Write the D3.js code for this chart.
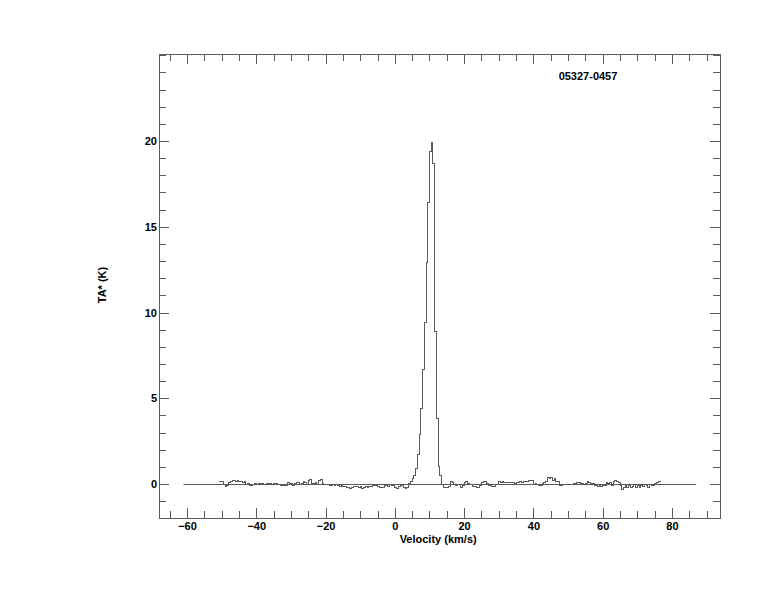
<!DOCTYPE html>
<html>
<head>
<meta charset="utf-8">
<script src="https://cdn.jsdelivr.net/npm/d3@7"></script>
<style>
  html, body { margin: 0; padding: 0; background: #fff; }
  svg text { font-family: "Liberation Sans", Arial, Helvetica, sans-serif; font-weight: bold; fill: #000; }
</style>
</head>
<body>
<svg id="chart" width="774" height="612"></svg>
<script>
// ---- data ----
const title = "05327-0457";
const xLabel = "Velocity (km/s)";
const yLabel = "TA* (K)";
const xMajorTicks = [-60, -40, -20, 0, 20, 40, 60, 80];
const yMajorTicks = [0, 5, 10, 15, 20];
const channelStart = -51;   // km/s, left edge of first channel
const channelWidth = 0.5;   // km/s
const baseline = [-61, 87]; // km/s extent of the zero line
const ta = [
  0.16, 0.16, 0.14, -0.04,  -0.12, -0.10, 0.08, 0.12,
  0.18, 0.18, 0.16, 0.18,   0.12, 0.12, 0.10, 0.12,
  0.0, 0.02, -0.06, -0.08,  -0.04, 0.02, 0.0, 0.02,
  0.04, 0.06, -0.02, 0.0,   0.06, 0.04, 0.04, -0.04,
  0.06, 0.04, 0.0, -0.04,   -0.08, -0.06, -0.08, -0.10,
  0.08, 0.06, 0.02, -0.06,  0.02, 0.10, 0.08, 0.0,
  0.04, 0.12, 0.08, 0.0,    0.22, 0.24, 0.06, 0.02,
  0.10, 0.0, 0.22, 0.24,    0.06, 0.0, -0.04, -0.02,
  -0.06, -0.10, -0.04, -0.08, -0.02, -0.06, -0.14, -0.10,
  -0.12, -0.16, -0.20, -0.18, -0.24, -0.18, -0.16, -0.14,
  -0.16, -0.20, -0.14, -0.24, -0.18, -0.16, -0.20, -0.12,
  -0.16, -0.10, -0.04, -0.06, -0.12, -0.18, -0.20, -0.20,
  -0.08, -0.06, -0.12, -0.04, -0.06, -0.10, -0.20, -0.24,
  -0.12, -0.06, -0.10, -0.18, -0.24, -0.20, 0.02, 0.15,
  0.30, 0.50, 0.90, 1.70,   2.90, 4.40, 6.70, 9.40,
  12.9, 16.4, 19.4, 19.9,   18.7, 8.90, 3.80, 1.00,
  0.50, -0.05, -0.20, -0.22, -0.20, -0.14, 0.12, 0.10,
  -0.04, -0.10, -0.04, 0.0, -0.20, -0.06, 0.10, 0.12,
  0.06, -0.04, -0.02, -0.16, -0.16, -0.20, -0.20, -0.10,
  0.08, 0.12, 0.14, 0.04,   -0.08, -0.08, -0.16, -0.14,
  -0.02, 0.0, 0.12, 0.10,   0.12, 0.10, 0.08, 0.08,
  0.08, 0.10, 0.08, 0.06,   0.08, 0.10, 0.12, 0.10,
  0.12, 0.12, 0.16, 0.20,   0.20, 0.18, 0.0, 0.02,
  -0.04, -0.08, -0.08, 0.04, 0.10, 0.12, 0.36, 0.34,
  0.36, 0.20, 0.34, 0.16,   0.14, -0.06, -0.08, -0.02,
  -0.04, 0.0, -0.02, 0.0,   -0.04, 0.02, 0.04, 0.08,
  0.10, 0.06, 0.04, 0.0,    0.04, 0.16, 0.10, 0.02,
  0.04, -0.10, -0.08, -0.12, -0.10, -0.12, -0.10, -0.08,
  0.08, 0.06, 0.10, -0.06,  0.16, 0.18, 0.14, 0.10,
  -0.10, -0.30, -0.20, -0.04, -0.20, -0.08, -0.18, -0.16,
  -0.04, -0.20, -0.10, -0.18, -0.06, -0.12, -0.02, -0.10,
  -0.20, -0.04, -0.06, -0.10, 0.04, 0.10, 0.12, 0.14
];

// ---- layout ----
const frame = { left: 159, right: 720, top: 54, bottom: 518 };
const lineColor = "#5a5a5a";
const majorLen = 10, minorLen = 7;

const svg = d3.select("#chart");

const x = d3.scaleLinear().domain([-68.08, 93.86]).range([frame.left, frame.right]);
const y = d3.scaleLinear().domain([-1.98, 25.07]).range([frame.bottom, frame.top]);

const xMinor = d3.range(-65, 95, 5).filter(v => x(v) > frame.left && x(v) < frame.right && !xMajorTicks.includes(v));
const yMinor = d3.range(-1, 26, 1).filter(v => !yMajorTicks.includes(v) && y(v) > frame.top && y(v) < frame.bottom);

function addAxis(gen, tr, labels) {
  const g = svg.append("g").attr("transform", tr).call(gen);
  g.select(".domain").remove();
  g.selectAll("line").attr("stroke", lineColor).attr("shape-rendering", "crispEdges");
  g.selectAll("text").attr("font-size", 11).style("font-family", "'Liberation Sans', Arial, sans-serif").style("font-weight", "bold").attr("fill", "#000");
  if (!labels) g.selectAll("text").remove();
  return g;
}
// bottom
addAxis(d3.axisBottom(x).tickValues(xMajorTicks).tickSize(-majorLen).tickFormat(d3.format("d")), `translate(0,${frame.bottom})`, true)
  .selectAll("text").attr("dy", "0.71em").attr("y", 4);
addAxis(d3.axisBottom(x).tickValues(xMinor).tickSize(-minorLen), `translate(0,${frame.bottom})`, false);
// top
addAxis(d3.axisTop(x).tickValues(xMajorTicks).tickSize(-majorLen), `translate(0,${frame.top})`, false);
addAxis(d3.axisTop(x).tickValues(xMinor).tickSize(-minorLen), `translate(0,${frame.top})`, false);
// left
addAxis(d3.axisLeft(y).tickValues(yMajorTicks).tickSize(-majorLen).tickFormat(d3.format("d")), `translate(${frame.left},0)`, true)
  .selectAll("text").attr("x", -2);
addAxis(d3.axisLeft(y).tickValues(yMinor).tickSize(-minorLen), `translate(${frame.left},0)`, false);
// right
addAxis(d3.axisRight(y).tickValues(yMajorTicks).tickSize(-majorLen), `translate(${frame.right},0)`, false);
addAxis(d3.axisRight(y).tickValues(yMinor).tickSize(-minorLen), `translate(${frame.right},0)`, false);

// frame
svg.append("rect")
  .attr("x", frame.left + 0.5).attr("y", frame.top + 0.5)
  .attr("width", frame.right - frame.left).attr("height", frame.bottom - frame.top)
  .attr("fill", "none").attr("stroke", lineColor).attr("shape-rendering", "crispEdges");

// zero baseline
svg.append("line")
  .attr("x1", x(baseline[0])).attr("x2", x(baseline[1]))
  .attr("y1", Math.round(y(0)) + 0.5).attr("y2", Math.round(y(0)) + 0.5)
  .attr("stroke", lineColor).attr("stroke-width", 1);

// spectrum (histogram style)
const pts = ta.map((t, i) => [channelStart + (i + 0.5) * channelWidth, t]);
const line = d3.line().x(d => x(d[0])).y(d => y(d[1])).curve(d3.curveStep);
svg.append("path")
  .attr("d", line(pts))
  .attr("fill", "none").attr("stroke", lineColor).attr("stroke-width", 1)
  .attr("shape-rendering", "crispEdges");

// titles
svg.append("text").attr("x", 588).attr("y", 80).attr("text-anchor", "middle").attr("font-size", 11).text(title);
svg.append("text").attr("x", x(12.5)).attr("y", 543).attr("text-anchor", "middle").attr("font-size", 11).text(xLabel);
svg.append("text").attr("transform", "translate(106,285) rotate(-90)").attr("text-anchor", "middle").attr("font-size", 11).text(yLabel);
</script>
</body>
</html>
